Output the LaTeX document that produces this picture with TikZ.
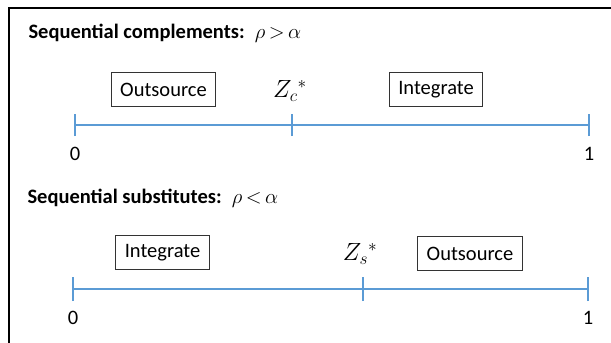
\documentclass[tikz,border=0pt]{standalone}
\usepackage{fontspec}
\setmainfont{Carlito}
\usetikzlibrary{positioning}

\definecolor{axisblue}{RGB}{91,155,213}

\begin{document}
\begin{tikzpicture}[x=1pt,y=-1pt,
	every node/.style={font=\fontsize{20.5}{24}\selectfont},
	heading/.style={anchor=west, font=\fontsize{20.5}{24}\selectfont\bfseries},
	cut/.style={font=\fontsize{24}{28}\selectfont},
	choice/.style={draw=black!80, line width=1.2pt, minimum height=34pt, inner xsep=9pt},
	axis/.style={draw=axisblue, line width=1.6pt},
	tick/.style={draw=axisblue, line width=1.1pt}]
\useasboundingbox (0,0) rectangle (611,343);
\draw[line width=1.5pt] (9,343) -- (9,8) -- (611,8);

% sequential complements
\node[heading] (comptitle) at (25,33) {Sequential complements:\enspace\mdseries\fontsize{21.5}{26}\selectfont$\rho\mskip-2mu>\mskip-2mu\alpha$};
\coordinate (comp0) at (75,125);
\coordinate (compz) at (292,125);
\coordinate (comp1) at (589,125);
\draw[axis] (comp0) -- (comp1);
\foreach \p in {comp0,compz,comp1}
	\draw[tick] ([yshift=-11pt]\p) -- ([yshift=11pt]\p);
\node[choice] (compout) at (163.5,89.5) {Outsource};
\node[choice] (compint) at (436,89.5) {Integrate};
\node[cut] (compstar) at (290,91) {$Z_{c}{}^{*}$};
\node[below=19pt of comp0] (compzero) {0};
\node[below=19pt of comp1] (compone) {1};

% sequential substitutes
\node[heading] (substitle) at (24,198) {Sequential substitutes:\enspace\mdseries\fontsize{21.5}{26}\selectfont$\rho\mskip-2mu<\mskip-2mu\alpha$};
\coordinate (subs0) at (73,289);
\coordinate (subsz) at (363,289);
\coordinate (subs1) at (588,289);
\draw[axis] (subs0) -- (subs1);
\foreach \p in {subs0,subsz,subs1}
	\draw[tick] ([yshift=-12pt]\p) -- ([yshift=12pt]\p);
\node[choice] (subsint) at (162.5,252.5) {Integrate};
\node[choice] (subsout) at (470,253.5) {Outsource};
\node[cut] (subsstar) at (360,254) {$Z_{s}{}^{*}$};
\node[below=19pt of subs0] (subszero) {0};
\node[below=19pt of subs1] (subsone) {1};
\end{tikzpicture}
\end{document}
